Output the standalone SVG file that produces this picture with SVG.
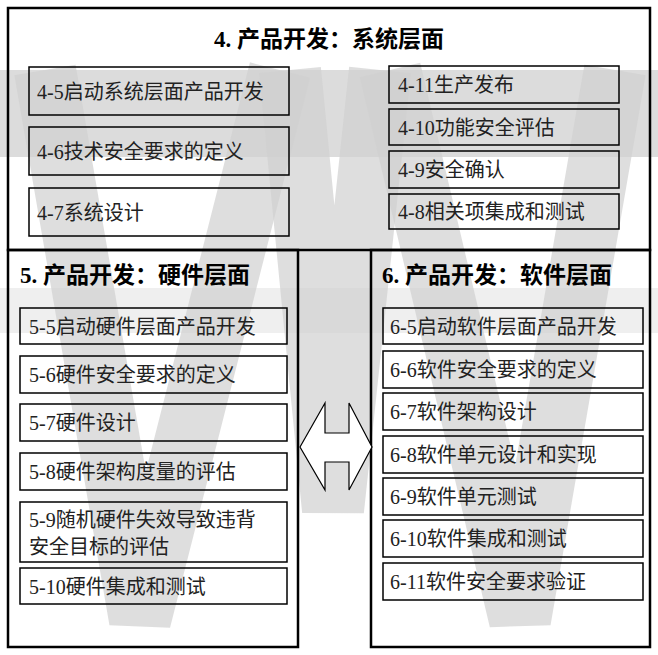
<svg xmlns="http://www.w3.org/2000/svg" width="658" height="655" viewBox="0 0 658 655">
<style>
.b{fill:none;stroke:#000;stroke-width:1.5}
.f{fill:none;stroke:#000;stroke-width:2.5}
.t{font-family:"Liberation Serif","Noto Sans CJK SC",serif;font-size:20px;fill:#222}
.h{font-family:"Liberation Serif","Noto Sans CJK SC",serif;font-size:23px;font-weight:bold;fill:#000}
</style>
<rect width="658" height="655" fill="#fff"/>
<g id="bg">
<rect x="0" y="70" width="658" height="87" fill="#dcdcdc"/>
<rect x="0" y="288" width="658" height="45" fill="#efefef"/>
<polyline points="45,70 140,620 280,70" fill="none" stroke="#d0d0d0" stroke-opacity="0.7" stroke-width="62" stroke-linejoin="bevel"/>
<polyline points="290,70 333,510 380,70" fill="none" stroke="#d0d0d0" stroke-opacity="0.7" stroke-width="62" stroke-linejoin="bevel"/>
<polyline points="390,70 520,620 615,70" fill="none" stroke="#d0d0d0" stroke-opacity="0.7" stroke-width="62" stroke-linejoin="bevel"/>
</g>
<g id="sys">
<rect class="f" x="8" y="8" width="642" height="242"/>
<text class="h" x="329" y="47" text-anchor="middle">4. 产品开发：系统层面</text>
</g>
<g id="n4-5"><rect class="b" x="29" y="67" width="260" height="48"/><text class="t" x="37" y="99">4-5启动系统层面产品开发</text></g>
<g id="n4-6"><rect class="b" x="29" y="127" width="260" height="48"/><text class="t" x="37" y="159">4-6技术安全要求的定义</text></g>
<g id="n4-7"><rect class="b" x="29" y="188" width="260" height="48"/><text class="t" x="37" y="220">4-7系统设计</text></g>
<g id="n4-11"><rect class="b" x="389" y="66" width="230" height="37"/><text class="t" x="398" y="92">4-11生产发布</text></g>
<g id="n4-10"><rect class="b" x="389" y="109" width="230" height="36"/><text class="t" x="398" y="135">4-10功能安全评估</text></g>
<g id="n4-9"><rect class="b" x="389" y="151" width="230" height="37"/><text class="t" x="398" y="177">4-9安全确认</text></g>
<g id="n4-8"><rect class="b" x="389" y="194" width="230" height="35"/><text class="t" x="398" y="219">4-8相关项集成和测试</text></g>
<g id="hw">
<rect class="f" x="8" y="250" width="290" height="397"/>
<text class="h" x="20" y="283">5. 产品开发：硬件层面</text>
</g>
<g id="n5-5"><rect class="b" x="20" y="308" width="267" height="36"/><text class="t" x="29" y="334">5-5启动硬件层面产品开发</text></g>
<g id="n5-6"><rect class="b" x="20" y="356" width="267" height="37"/><text class="t" x="29" y="382">5-6硬件安全要求的定义</text></g>
<g id="n5-7"><rect class="b" x="20" y="404" width="267" height="37"/><text class="t" x="29" y="430">5-7硬件设计</text></g>
<g id="n5-8"><rect class="b" x="20" y="453" width="267" height="37"/><text class="t" x="29" y="479">5-8硬件架构度量的评估</text></g>
<g id="n5-9"><rect class="b" x="20" y="502" width="267" height="60"/><text class="t" x="29" y="527">5-9随机硬件失效导致违背</text><text class="t" x="29" y="554">安全目标的评估</text></g>
<g id="n5-10"><rect class="b" x="20" y="568" width="267" height="36"/><text class="t" x="29" y="594">5-10硬件集成和测试</text></g>
<g id="sw">
<rect class="f" x="371" y="250" width="279" height="397"/>
<text class="h" x="382" y="283">6. 产品开发：软件层面</text>
</g>
<g id="n6-5"><rect class="b" x="383" y="308" width="260" height="36"/><text class="t" x="390" y="334">6-5启动软件层面产品开发</text></g>
<g id="n6-6"><rect class="b" x="383" y="351" width="260" height="37"/><text class="t" x="390" y="377">6-6软件安全要求的定义</text></g>
<g id="n6-7"><rect class="b" x="383" y="393" width="260" height="37"/><text class="t" x="390" y="419">6-7软件架构设计</text></g>
<g id="n6-8"><rect class="b" x="383" y="436" width="260" height="37"/><text class="t" x="390" y="462">6-8软件单元设计和实现</text></g>
<g id="n6-9"><rect class="b" x="383" y="478" width="260" height="37"/><text class="t" x="390" y="504">6-9软件单元测试</text></g>
<g id="n6-10"><rect class="b" x="383" y="520" width="260" height="37"/><text class="t" x="390" y="546">6-10软件集成和测试</text></g>
<g id="n6-11"><rect class="b" x="383" y="563" width="260" height="37"/><text class="t" x="390" y="589">6-11软件安全要求验证</text></g>
<g id="connectors">
<polygon points="300,447 325,403 325,433 349,433 349,403 372,447 349,490 349,462 325,462 325,490" fill="#fff" stroke="#000" stroke-width="1.2"/>
</g>
</svg>
